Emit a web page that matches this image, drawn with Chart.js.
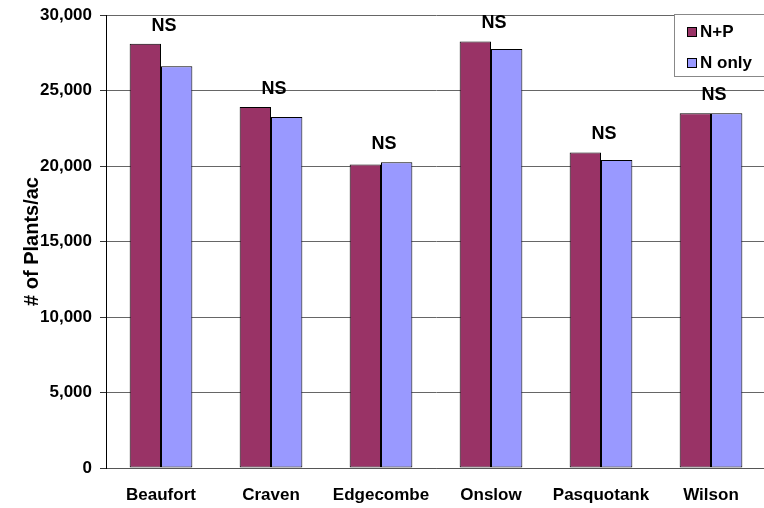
<!DOCTYPE html>
<html>
<head>
<meta charset="utf-8">
<title># of Plants/ac by county</title>
<script src="https://cdn.jsdelivr.net/npm/chart.js@4.4.0/dist/chart.umd.min.js"></script>
<style>
  html, body { margin: 0; padding: 0; background: #fff; overflow: hidden; }
  #wrap { width: 770px; height: 508px; }
</style>
</head>
<body>
<div id="wrap"><canvas id="plantsChart" width="770" height="508"></canvas></div>
<script>
var counties = ['Beaufort', 'Craven', 'Edgecombe', 'Onslow', 'Pasquotank', 'Wilson'];
var seriesNames = ['N+P', 'N only'];
var nPlusP = [28100, 23900, 20100, 28250, 20900, 23500];
var nOnly = [26600, 23250, 20250, 27750, 20400, 23500];
var sigLabels = ['NS', 'NS', 'NS', 'NS', 'NS', 'NS'];
var yTicks = [0, 5000, 10000, 15000, 20000, 25000, 30000];

var FONT = '"Liberation Sans", Arial, sans-serif';

// "NS" over each pair of bars
var sigPlugin = {
  id: 'sigPlugin',
  afterDatasetsDraw: function(chart) {
    var ctx = chart.ctx;
    var m0 = chart.getDatasetMeta(0);
    var m1 = chart.getDatasetMeta(1);
    ctx.save();
    ctx.font = 'bold 18px ' + FONT;
    ctx.fillStyle = '#000';
    ctx.textAlign = 'center';
    ctx.textBaseline = 'middle';
    for (var i = 0; i < counties.length; i++) {
      var top = Math.min(m0.data[i].y, m1.data[i].y);
      var x = (m0.data[i].x + m1.data[i].x) / 2 + 3;
      ctx.fillText(sigLabels[i], x, top - 18);
    }
    ctx.restore();
  }
};

// boxed legend sitting in the top right corner of the plot
var boxLegend = {
  id: 'boxLegend',
  afterDraw: function(chart) {
    var ctx = chart.ctx;
    var left = 674, top = 14, w = 100, h = 62;
    ctx.save();
    ctx.fillStyle = '#fff';
    ctx.fillRect(left, top, w, h);
    ctx.strokeStyle = '#888';
    ctx.lineWidth = 1;
    ctx.strokeRect(left + 0.5, top + 0.5, w, h);
    ctx.font = 'bold 17px ' + FONT;
    ctx.textBaseline = 'middle';
    chart.data.datasets.forEach(function(ds, k) {
      var cy = top + 18 + k * 31;
      ctx.fillStyle = ds.backgroundColor;
      ctx.fillRect(687, cy - 5, 10, 10);
      ctx.strokeStyle = '#000';
      ctx.strokeRect(687.5, cy - 4.5, 9, 9);
      ctx.fillStyle = '#000';
      ctx.fillText(ds.label, 700, cy);
    });
    ctx.restore();
  }
};

var ctx = document.getElementById('plantsChart');
var chart = new Chart(ctx, {
  type: 'bar',
  data: {
    labels: counties,
    datasets: [{
      label: seriesNames[0],
      data: nPlusP,
      backgroundColor: '#993366',
      borderColor: '#000',
      borderWidth: 1,
      borderSkipped: false
    }, {
      label: seriesNames[1],
      data: nOnly,
      backgroundColor: '#9999ff',
      borderColor: '#000',
      borderWidth: 1,
      borderSkipped: false
    }]
  },
  options: {
    responsive: false,
    animation: false,
    layout: { padding: { top: 15, right: 4, left: 0, bottom: 0 } },
    datasets: {
      bar: { categoryPercentage: 0.57, barPercentage: 1 }
    },
    plugins: {
      legend: { display: false },
      tooltip: { enabled: false }
    },
    scales: {
      x: {
        grid: { display: false, drawTicks: false },
        border: { color: '#555', width: 1 },
        ticks: {
          color: '#000',
          padding: 17,
          font: { family: FONT, size: 17, weight: 'bold' }
        },
        afterFit: function(scale) { scale.height = 40; }
      },
      y: {
        min: 0,
        max: 30000,
        afterBuildTicks: function(scale) {
          scale.ticks = yTicks.map(function(v) { return { value: v }; });
        },
        grid: { color: '#666', tickLength: 6, tickColor: '#333' },
        border: { color: '#000', width: 1 },
        ticks: {
          color: '#000',
          padding: 8,
          font: { family: FONT, size: 17, weight: 'bold' },
          callback: function(v) { return v.toLocaleString('en-US'); }
        },
        title: {
          display: true,
          text: '# of Plants/ac',
          color: '#000',
          padding: { top: 20, bottom: 0 },
          font: { family: FONT, size: 20, weight: 'bold' }
        },
        afterFit: function(scale) {
          scale.width = 106;
          scale.paddingTop = 0;
          scale.paddingBottom = 0;
        }
      }
    }
  },
  plugins: [sigPlugin, boxLegend]
});
</script>
</body>
</html>
